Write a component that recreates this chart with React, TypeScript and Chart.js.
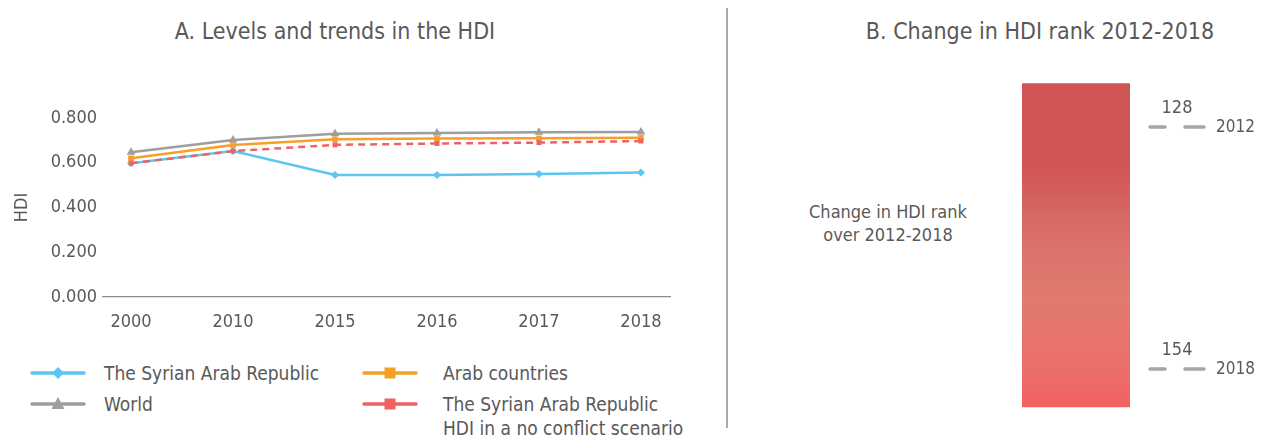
import React, { useEffect, useRef } from "react";
import { Chart, registerables } from "chart.js";

Chart.register(...registerables);

// ---------- data ----------
const years = ["2000", "2010", "2015", "2016", "2017", "2018"];
const syriaHDI = [0.598, 0.652, 0.545, 0.545, 0.55, 0.556];
const arabHDI = [0.62, 0.679, 0.705, 0.708, 0.709, 0.712];
const worldHDI = [0.647, 0.702, 0.73, 0.733, 0.736, 0.737];
const noConflictHDI = [0.598, 0.652, 0.68, 0.686, 0.69, 0.697];
const hdiTicks = [0, 0.2, 0.4, 0.6, 0.8];

const rankYears = ["2012", "2018"];
const hdiRanks = [128, 154];

const FONT = "'Liberation Sans Narrow', 'DejaVu Sans Condensed', 'Roboto', sans-serif";
const TEXT = "#595959";

type Series = {
  name: string[];
  values: number[];
  color: string;
  marker: "rectRot" | "rect" | "triangle";
  radius: number;
  dash: number[];
  order: number;
};

const series: Series[] = [
  { name: ["The Syrian Arab Republic"], values: syriaHDI, color: "#5cc6f2", marker: "rectRot", radius: 4, dash: [], order: 3 },
  { name: ["Arab countries"], values: arabHDI, color: "#f6a02a", marker: "rect", radius: 4, dash: [], order: 2 },
  { name: ["World"], values: worldHDI, color: "#9e9e9e", marker: "triangle", radius: 5, dash: [], order: 4 },
  {
    name: ["The Syrian Arab Republic", "HDI in a no conflict scenario"],
    values: noConflictHDI,
    color: "#f06262",
    marker: "rect",
    radius: 3.5,
    dash: [7, 5],
    order: 1,
  },
];

// legend grid: [column, row]
const legendSlots = [
  [0, 0],
  [1, 0],
  [0, 1],
  [1, 1],
];

function Marker({ s }: { s: Series }) {
  const c = s.color;
  let shape: React.ReactNode = null;
  if (s.marker === "rectRot") shape = <polygon points="28,1 34,7 28,13 22,7" fill={c} />;
  if (s.marker === "rect") shape = <rect x={22.5} y={1.5} width={11} height={11} fill={c} />;
  if (s.marker === "triangle") shape = <polygon points="28,0 34.5,12 21.5,12" fill={c} />;
  return (
    <svg width={56} height={14} style={{ display: "block" }}>
      <line x1={2} y1={7} x2={54} y2={7} stroke={c} strokeWidth={3.5} strokeLinecap="round" />
      {shape}
    </svg>
  );
}

function TrendChart() {
  const ref = useRef<HTMLCanvasElement | null>(null);
  useEffect(() => {
    if (!ref.current) return;
    const chart = new Chart(ref.current, {
      type: "line",
      data: {
        datasets: series.map((s) => ({
          label: s.name.join(" "),
          data: s.values.map((v, i) => ({ x: i, y: v })),
          borderColor: s.color,
          backgroundColor: s.color,
          borderWidth: 2.5,
          borderDash: s.dash,
          pointStyle: s.marker,
          pointRadius: s.radius,
          pointBorderWidth: 0,
          pointBackgroundColor: s.color,
          tension: 0,
          order: s.order,
        })),
      },
      options: {
        animation: false,
        responsive: false,
        maintainAspectRatio: false,
        layout: { padding: { top: 50, right: 28, left: 0, bottom: 0 } },
        plugins: { legend: { display: false }, tooltip: { enabled: false } },
        scales: {
          x: {
            type: "linear",
            min: -0.275,
            max: 5.285,
            afterBuildTicks: (s: any) => {
              s.ticks = years.map((_, i) => ({ value: i }));
            },
            afterFit: (s: any) => {
              s.height = 46;
            },
            ticks: {
              callback: (v: any) => years[v] ?? "",
              color: TEXT,
              font: { family: FONT, size: 18 },
              padding: 15,
              autoSkip: false,
              maxRotation: 0,
            },
            grid: { display: false, drawTicks: false },
            border: { display: true, color: "#8a8a8a", width: 1.3 },
          },
          y: {
            type: "linear",
            min: 0,
            max: 0.8,
            afterBuildTicks: (s: any) => {
              s.ticks = hdiTicks.map((v) => ({ value: v }));
            },
            afterFit: (s: any) => {
              s.width = 95;
            },
            ticks: {
              callback: (v: any) => Number(v).toFixed(3),
              color: TEXT,
              font: { family: FONT, size: 18 },
              padding: 6,
            },
            grid: { display: false, drawTicks: false },
            border: { display: false },
            title: {
              display: true,
              text: "HDI",
              color: TEXT,
              font: { family: FONT, size: 18 },
              padding: { top: 4, bottom: 0 },
            },
          },
        },
      },
    } as any);
    return () => chart.destroy();
  }, []);
  return <canvas ref={ref} width={690} height={275} style={{ position: "absolute", left: 0, top: 60 }} />;
}

const rankMarks = {
  id: "rankMarks",
  afterDatasetsDraw(chart: any) {
    const { ctx, scales } = chart;
    ctx.save();
    hdiRanks.forEach((r, i) => {
      const y = scales.y.getPixelForValue(r);
      ctx.strokeStyle = "#a6a6a6";
      ctx.lineWidth = 3.5;
      ctx.lineCap = "round";
      ctx.beginPath();
      ctx.moveTo(150, y);
      ctx.lineTo(165, y);
      ctx.moveTo(185, y);
      ctx.lineTo(204, y);
      ctx.stroke();
      ctx.fillStyle = TEXT;
      ctx.font = `18px ${FONT}`;
      ctx.textAlign = "center";
      ctx.textBaseline = "middle";
      ctx.fillText(String(r), 177, y - 19);
      ctx.textAlign = "right";
      ctx.font = `17px ${FONT}`;
      ctx.fillText(rankYears[i], 255, y + 1);
    });
    ctx.restore();
  },
};

function RankChart() {
  const ref = useRef<HTMLCanvasElement | null>(null);
  useEffect(() => {
    if (!ref.current) return;
    const chart = new Chart(ref.current, {
      type: "bar",
      data: {
        labels: [rankYears.join("-")],
        datasets: [
          {
            label: "HDI rank",
            data: [[hdiRanks[0] - 4.7, hdiRanks[1] + 4.1]],
            borderWidth: 0,
            categoryPercentage: 1,
            barPercentage: 0.7105,
            backgroundColor: (c: any) => {
              const area = c.chart.chartArea;
              if (!area) return "#e06a62";
              const yS = c.chart.scales.y;
              const top = yS.getPixelForValue(hdiRanks[0] - 4.7);
              const bot = yS.getPixelForValue(hdiRanks[1] + 4.1);
              const g = c.chart.ctx.createLinearGradient(0, top, 0, bot);
              g.addColorStop(0, "#cf5454");
              g.addColorStop(0.25, "#d05555");
              g.addColorStop(0.5, "#da7269");
              g.addColorStop(0.65, "#e07a6f");
              g.addColorStop(0.85, "#e9726a");
              g.addColorStop(1, "#f26262");
              return g;
            },
          },
        ],
      },
      options: {
        animation: false,
        responsive: false,
        maintainAspectRatio: false,
        layout: { padding: { left: 0, right: 104, top: 0, bottom: 0 } },
        plugins: { legend: { display: false }, tooltip: { enabled: false } },
        scales: {
          x: { display: false },
          y: { display: false, reverse: true, min: 120.8, max: 160.55 },
        },
      },
      plugins: [rankMarks],
    } as any);
    return () => chart.destroy();
  }, []);
  return <canvas ref={ref} width={256} height={370} style={{ position: "absolute", left: 992, top: 52 }} />;
}

export default function App() {
  useEffect(() => {
    document.documentElement.style.overflow = "hidden";
  }, []);
  const textStyle: React.CSSProperties = { fontFamily: FONT, color: TEXT };
  return (
    <div style={{ position: "relative", width: 1248, height: 427, ...textStyle }}>
      <div style={{ position: "absolute", left: 0, width: 654, top: 10, textAlign: "center", fontSize: 23, lineHeight: "26px" }}>
        A. Levels and trends in the HDI
      </div>
      <div style={{ position: "absolute", left: 832, width: 400, top: 10, textAlign: "center", fontSize: 23, lineHeight: "26px" }}>
        B. Change in HDI rank 2012-2018
      </div>
      <div style={{ position: "absolute", left: 718, top: -1, width: 2, height: 421, background: "#a9a9a9" }} />
      <TrendChart />
      {series.map((s, i) => {
        const [col, row] = legendSlots[i];
        const lineLeft = col === 0 ? 22 : 354;
        const textLeft = col === 0 ? 96 : 435;
        const cy = row === 0 ? 365 : 396;
        return (
          <React.Fragment key={i}>
            <div style={{ position: "absolute", left: lineLeft, top: cy - 7 }}>
              <Marker s={s} />
            </div>
            <div style={{ position: "absolute", left: textLeft, top: cy - 12, fontSize: 19, lineHeight: "24px", whiteSpace: "nowrap" }}>
              {s.name.map((n, k) => (
                <div key={k}>{n}</div>
              ))}
            </div>
          </React.Fragment>
        );
      })}
      <div style={{ position: "absolute", left: 780, width: 200, top: 192, textAlign: "center", fontSize: 18, lineHeight: "23px" }}>
        <div>Change in HDI rank</div>
        <div>over 2012-2018</div>
      </div>
      <RankChart />
    </div>
  );
}
